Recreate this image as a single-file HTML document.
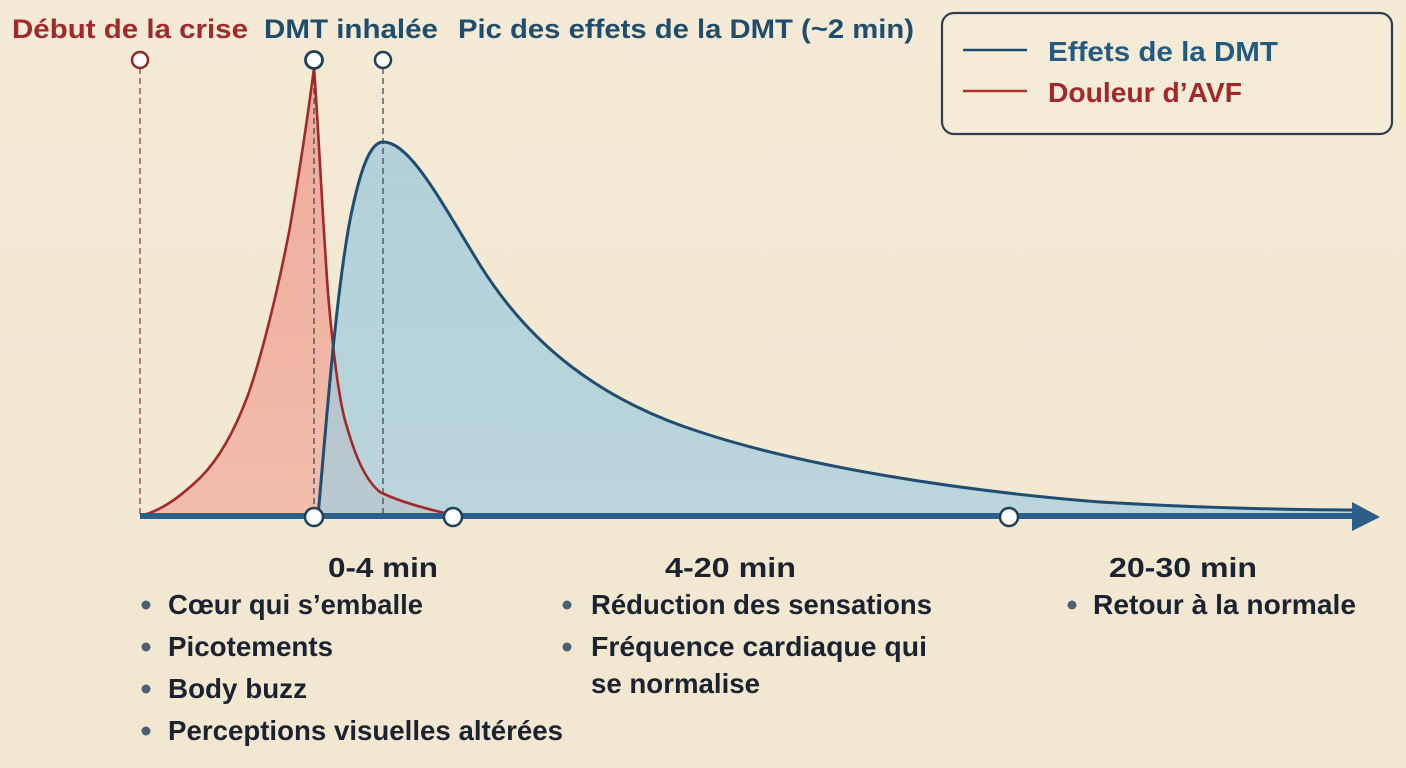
<!DOCTYPE html>
<html>
<head>
<meta charset="utf-8">
<style>
  html,body{margin:0;padding:0;background:#f3e9d4;}
  svg{display:block;}
  text{font-family:"Liberation Sans","DejaVu Sans",sans-serif;font-weight:bold;}
</style>
</head>
<body>
<svg width="1406" height="768" viewBox="0 0 1406 768" xmlns="http://www.w3.org/2000/svg">
  <defs>
    <linearGradient id="bg" x1="0" y1="0" x2="0" y2="1">
      <stop offset="0" stop-color="#f4ead5"/>
      <stop offset="1" stop-color="#f2e7d0"/>
    </linearGradient>
    <linearGradient id="redf" x1="0" y1="0" x2="0" y2="1">
      <stop offset="0" stop-color="#ee9e90"/>
      <stop offset="1" stop-color="#f2b6a4"/>
    </linearGradient>
    <linearGradient id="bluef" x1="0" y1="0" x2="0" y2="1">
      <stop offset="0" stop-color="#98c6dc"/>
      <stop offset="1" stop-color="#a2cde0"/>
    </linearGradient>
  </defs>
  <rect x="0" y="0" width="1406" height="768" fill="url(#bg)"/>

  <!-- Top labels -->
  <text x="12" y="38" font-size="27" fill="#a12a2a" textLength="236" lengthAdjust="spacingAndGlyphs">Début de la crise</text>
  <text x="264" y="38" font-size="27" fill="#1f4d6e" textLength="174" lengthAdjust="spacingAndGlyphs">DMT inhalée</text>
  <text x="458" y="38" font-size="27" fill="#1f4d6e" textLength="456" lengthAdjust="spacingAndGlyphs">Pic des effets de la DMT (~2 min)</text>

  <!-- Legend -->
  <rect x="942" y="13" width="450" height="121" rx="12" ry="12" fill="#f5ecd8" stroke="#2d3e4e" stroke-width="2.2"/>
  <line x1="963" y1="50" x2="1027" y2="50" stroke="#1f4d6e" stroke-width="2.5"/>
  <text x="1048" y="61" font-size="28" fill="#255a80" textLength="230" lengthAdjust="spacingAndGlyphs">Effets de la DMT</text>
  <line x1="963" y1="91" x2="1027" y2="91" stroke="#b0302c" stroke-width="2.5"/>
  <text x="1048" y="102" font-size="28" fill="#a3282a" textLength="194" lengthAdjust="spacingAndGlyphs">Douleur d’AVF</text>

  <!-- Red fill -->
  <path d="M140,516 C165,510 185,492 200,478 C220,458 235,430 248,395 C262,355 278,290 290,227 C298,180 306,130 314,68 C318,120 322,210 328,293 C332,340 338,400 347,427 C355,455 365,480 380,492 C400,502 430,510 458,516 Z" fill="url(#redf)" opacity="0.85"/>
  <!-- Blue fill -->
  <path d="M318,516 C325,440 335,300 350,220 C360,170 370,142 383,142 C410,142 440,200 480,265 C530,345 600,400 700,432 C800,465 950,490 1100,502 C1200,508 1300,510 1355,510 L1355,516 Z" fill="url(#bluef)" opacity="0.7"/>

  <!-- Dashed guides -->
  <line x1="140" y1="68" x2="140" y2="516" stroke="#a04a48" stroke-width="1.4" stroke-dasharray="6,4"/>
  <line x1="314" y1="68" x2="314" y2="516" stroke="#4a5560" stroke-width="1.4" stroke-dasharray="6,4"/>
  <line x1="383" y1="68" x2="383" y2="516" stroke="#4a5560" stroke-width="1.4" stroke-dasharray="6,4"/>

  <!-- Red curve -->
  <path d="M140,516 C165,510 185,492 200,478 C220,458 235,430 248,395 C262,355 278,290 290,227 C298,180 306,130 314,68 C318,120 322,210 328,293 C332,340 338,400 347,427 C355,455 365,480 380,492 C400,502 430,510 458,516" fill="none" stroke="#a3282a" stroke-width="2.6"/>
  <!-- Blue curve -->
  <path d="M318,516 C325,440 335,300 350,220 C360,170 370,142 383,142 C410,142 440,200 480,265 C530,345 600,400 700,432 C800,465 950,490 1100,502 C1200,508 1300,510 1355,510" fill="none" stroke="#1f4e70" stroke-width="3"/>

  <!-- Axis -->
  <line x1="140" y1="516" x2="1356" y2="516" stroke="#2b5f8a" stroke-width="6"/>
  <polygon points="1352,502 1380,517 1352,531" fill="#2b5f8a"/>

  <!-- Top markers -->
  <circle cx="140" cy="60" r="8" fill="#ffffff" stroke="#8e2a2a" stroke-width="2.5"/>
  <circle cx="314" cy="60" r="8.5" fill="#ffffff" stroke="#1f3f5a" stroke-width="2.8"/>
  <circle cx="383" cy="60" r="8" fill="#ffffff" stroke="#1f3f5a" stroke-width="2.5"/>

  <!-- Axis markers -->
  <circle cx="314" cy="517" r="9" fill="#ffffff" stroke="#1f3f5a" stroke-width="2.5"/>
  <circle cx="453" cy="517" r="9" fill="#ffffff" stroke="#1f3f5a" stroke-width="2.5"/>
  <circle cx="1009" cy="517" r="9" fill="#ffffff" stroke="#1f3f5a" stroke-width="2.5"/>

  <!-- Column 1 -->
  <text x="328" y="577" font-size="28" fill="#1b2230" textLength="110" lengthAdjust="spacingAndGlyphs">0-4 min</text>
  <circle cx="146" cy="605" r="4.5" fill="#4a6172"/>
  <text x="168" y="614" font-size="28" fill="#1b2230" textLength="255" lengthAdjust="spacingAndGlyphs">Cœur qui s’emballe</text>
  <circle cx="146" cy="647" r="4.5" fill="#4a6172"/>
  <text x="168" y="656" font-size="28" fill="#1b2230" textLength="165" lengthAdjust="spacingAndGlyphs">Picotements</text>
  <circle cx="146" cy="689" r="4.5" fill="#4a6172"/>
  <text x="168" y="698" font-size="28" fill="#1b2230" textLength="139" lengthAdjust="spacingAndGlyphs">Body buzz</text>
  <circle cx="146" cy="731" r="4.5" fill="#4a6172"/>
  <text x="168" y="740" font-size="28" fill="#1b2230" textLength="395" lengthAdjust="spacingAndGlyphs">Perceptions visuelles altérées</text>

  <!-- Column 2 -->
  <text x="665" y="577" font-size="28" fill="#1b2230" textLength="131" lengthAdjust="spacingAndGlyphs">4-20 min</text>
  <circle cx="567" cy="605" r="4.5" fill="#4a6172"/>
  <text x="591" y="614" font-size="28" fill="#1b2230" textLength="341" lengthAdjust="spacingAndGlyphs">Réduction des sensations</text>
  <circle cx="567" cy="647" r="4.5" fill="#4a6172"/>
  <text x="591" y="656" font-size="28" fill="#1b2230" textLength="336" lengthAdjust="spacingAndGlyphs">Fréquence cardiaque qui</text>
  <text x="591" y="693" font-size="28" fill="#1b2230" textLength="169" lengthAdjust="spacingAndGlyphs">se normalise</text>

  <!-- Column 3 -->
  <text x="1109" y="577" font-size="28" fill="#1b2230" textLength="148" lengthAdjust="spacingAndGlyphs">20-30 min</text>
  <circle cx="1072" cy="605" r="4.5" fill="#4a6172"/>
  <text x="1093" y="614" font-size="28" fill="#1b2230" textLength="263" lengthAdjust="spacingAndGlyphs">Retour à la normale</text>
</svg>
</body>
</html>
